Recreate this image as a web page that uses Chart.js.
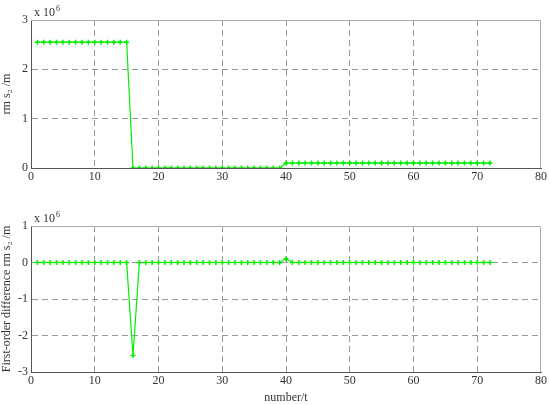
<!DOCTYPE html>
<html>
<head>
<meta charset="utf-8">
<script src="https://cdn.jsdelivr.net/npm/chart.js@4.4.0/dist/chart.umd.min.js"></script>
<style>
  body { margin: 0; background: #fff; }
  .wrap { position: absolute; left: 0; width: 550px; }
  #top { top: 0; height: 200px; }
  #bot { top: 200px; height: 205px; }
</style>
</head>
<body>
<div class="wrap" id="top"><canvas id="c1"></canvas></div>
<div class="wrap" id="bot"><canvas id="c2"></canvas></div>
<script>
// sample number t
const numbers = [1,2,3,4,5,6,7,8,9,10,11,12,13,14,15,16,17,18,19,20,21,22,23,24,25,26,27,28,29,30,31,32,33,34,35,36,
                 37,38,39,40,41,42,43,44,45,46,47,48,49,50,51,52,53,54,55,56,57,58,59,60,61,62,63,64,65,66,67,68,69,70,71,72];

// rms s2 (x 10^6 m)
const rmsValues = [2.55,2.55,2.55,2.55,2.55,2.55,2.55,2.55,2.55,2.55,2.55,2.55,2.55,2.55,2.55,
                   0,0,0,0,0,0,0,0,0,0,0,0,0,0,0,0,0,0,0,0,0,0,0,0,
                   0.1,0.1,0.1,0.1,0.1,0.1,0.1,0.1,0.1,0.1,0.1,0.1,0.1,0.1,0.1,0.1,0.1,
                   0.1,0.1,0.1,0.1,0.1,0.1,0.1,0.1,0.1,0.1,0.1,0.1,0.1,0.1,0.1,0.1];

// first-order difference (x 10^6 m)
const diffValues = [0,0,0,0,0,0,0,0,0,0,0,0,0,0,0,
                    -2.55,0,0,0,0,0,0,0,0,0,0,0,0,0,0,0,0,0,0,0,0,0,0,0,
                    0.1,0,0,0,0,0,0,0,0,0,0,0,0,0,0,0,0,
                    0,0,0,0,0,0,0,0,0,0,0,0,0,0,0,0];

const xTicks = [0,10,20,30,40,50,60,70,80];
const topYTicks = [0,1,2,3];
const botYTicks = [-3,-2,-1,0,1];

const serif = 'Liberation Serif';
const green = '#00ee00';

// MATLAB-like box and the "x 10^6" label
const boxPlugin = {
    id: 'box',
    afterDraw(chart) {
        const a = chart.chartArea, ctx = chart.ctx;
        ctx.save();
        ctx.strokeStyle = '#aaa';
        ctx.lineWidth = 1;
        ctx.beginPath();
        ctx.moveTo(a.left, a.top + 0.5);
        ctx.lineTo(a.right - 0.5, a.top + 0.5);
        ctx.lineTo(a.right - 0.5, a.bottom);
        ctx.stroke();
        ctx.fillStyle = '#333';
        ctx.font = '12px ' + serif;
        ctx.textBaseline = 'bottom';
        ctx.fillText('x 10', a.left + 3, a.top - 1);
        ctx.font = '8px ' + serif;
        ctx.fillText('6', a.left + 25, a.top - 7);
        ctx.restore();
    }
};

function makeChart(id, values, yTicks, yTitle, padTop, xTitle, axisH) {
    const yMin = yTicks[0], yMax = yTicks[yTicks.length - 1];
    new Chart(document.getElementById(id), {
        type: 'line',
        data: {
            datasets: [{
                data: numbers.map((n, i) => ({ x: n, y: values[i] })),
                borderColor: green,
                backgroundColor: green,
                borderWidth: 1.2,
                pointStyle: 'cross',
                pointRadius: 2.5,
                pointBorderWidth: 1.5,
                tension: 0
            }]
        },
        options: {
            responsive: true,
            maintainAspectRatio: false,
            animation: false,
            plugins: { legend: { display: false }, tooltip: { enabled: false } },
            layout: { padding: { top: padTop, right: 9, left: 0, bottom: 0 } },
            scales: {
                x: {
                    type: 'linear', min: 0, max: 80,
                    afterBuildTicks: s => { s.ticks = xTicks.map(v => ({ value: v })); },
                    afterFit: s => { s.height = axisH; },
                    ticks: { color: '#333', font: { family: serif, size: 12 }, padding: 2, maxRotation: 0 },
                    grid: {
                        color: c => (c.tick && (c.tick.value === 0 || c.tick.value === 80)) ? 'transparent' : '#999',
                        drawTicks: false
                    },
                    border: { color: '#555', dash: [6, 4] },
                    title: { display: !!xTitle, text: xTitle, color: '#333', font: { family: serif, size: 12 }, padding: { top: 0, bottom: 0 } }
                },
                y: {
                    type: 'linear', min: yMin, max: yMax,
                    afterBuildTicks: s => { s.ticks = yTicks.map(v => ({ value: v })); },
                    afterFit: s => { s.width = 31; },
                    ticks: { color: '#333', font: { family: serif, size: 12 }, padding: 3 },
                    grid: {
                        color: c => (c.tick && (c.tick.value === yMin || c.tick.value === yMax)) ? 'transparent' : '#999',
                        drawTicks: false
                    },
                    border: { color: '#555', dash: [6, 4] },
                    title: { display: true, text: yTitle, color: '#333', font: { family: serif, size: 12 }, padding: { top: 0, bottom: 2 } }
                }
            }
        },
        plugins: [boxPlugin]
    });
}

makeChart('c1', rmsValues, topYTicks, 'rm s\u2082 /m', 20, '', 32);
makeChart('c2', diffValues, botYTicks, 'First-order difference rm s\u2082 /m', 26, 'number/t', 33);
</script>
</body>
</html>
